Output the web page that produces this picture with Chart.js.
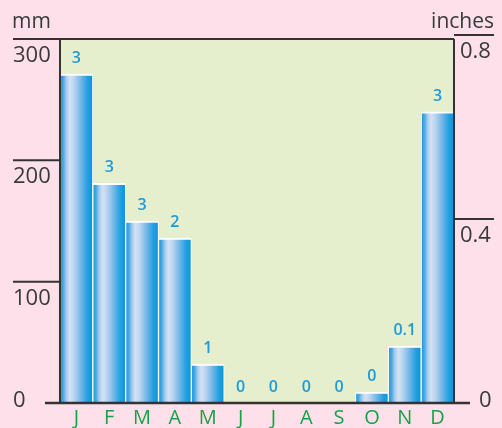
<!DOCTYPE html>
<html>
<head>
<meta charset="utf-8">
<script src="https://cdn.jsdelivr.net/npm/chart.js@4/dist/chart.umd.min.js"></script>
<style>
  html, body { margin: 0; padding: 0; background: #fde0ea; }
  #wrap { width: 502px; height: 428px; }
</style>
</head>
<body>
<div id="wrap"><canvas id="c" width="502" height="428"></canvas></div>
<script>
// ---- data ----
const months = ['J', 'F', 'M', 'A', 'M', 'J', 'J', 'A', 'S', 'O', 'N', 'D'];
const rainfallMm = [271, 181, 150, 136, 32, 0, 0, 0, 0, 9, 47, 240];
const rainLabels = ['3', '3', '3', '2', '1', '0', '0', '0', '0', '0', '0.1', '3'];
const mmTicks = [0, 100, 200, 300];
const inchTicks = [0, 0.4, 0.8];
const leftTitle = 'mm';
const rightTitle = 'inches';

// ---- styles ----
const PINK = '#fde0ea';
const PLOT = '#e5eecd';
const AXIS = '#333333';
const TEXT = '#3a3a3a';
const GREEN = '#17a24a';
const BLUE = '#1e9ad8';
const FONT = '"Open Sans", "Noto Sans", sans-serif';

function barGradient(context) {
  const chart = context.chart;
  const area = chart.chartArea;
  if (!area) return '#1e9ad8';
  const xs = chart.scales.x;
  const cx = xs.getPixelForValue(context.dataIndex);
  const w = (area.right - area.left) / months.length;
  const g = chart.ctx.createLinearGradient(cx - w / 2, 0, cx + w / 2, 0);
  g.addColorStop(0.00, '#1596dc');
  g.addColorStop(0.10, '#4aa9e4');
  g.addColorStop(0.20, '#a9cdee');
  g.addColorStop(0.30, '#d3e2f4');
  g.addColorStop(0.42, '#bdd6f0');
  g.addColorStop(0.55, '#93c3ea');
  g.addColorStop(0.70, '#5cafe5');
  g.addColorStop(0.84, '#22a0e0');
  g.addColorStop(1.00, '#0896da');
  return g;
}

const decor = {
  id: 'decor',
  beforeDraw(chart) {
    const { ctx, chartArea: a } = chart;
    ctx.save();
    ctx.fillStyle = PINK;
    ctx.fillRect(0, 0, chart.width, chart.height);
    ctx.fillStyle = PLOT;
    ctx.fillRect(a.left, a.top, a.right - a.left, a.bottom - a.top);
    ctx.restore();
  },
  afterDatasetsDraw(chart) {
    const { ctx } = chart;
    const meta = chart.getDatasetMeta(0);
    ctx.save();
    ctx.fillStyle = BLUE;
    ctx.font = '600 16px ' + FONT;
    ctx.textAlign = 'center';
    ctx.textBaseline = 'alphabetic';
    meta.data.forEach((bar, i) => {
      ctx.fillText(rainLabels[i], bar.x, bar.y - 11);
    });
    ctx.restore();
  },
  afterDraw(chart) {
    const { ctx, chartArea: a } = chart;
    const yL = chart.scales.y, yR = chart.scales.y2, xs = chart.scales.x;
    ctx.save();
    ctx.strokeStyle = AXIS;
    ctx.lineWidth = 2;
    // frame
    ctx.beginPath();
    ctx.moveTo(a.left, a.top); ctx.lineTo(a.right, a.top);
    ctx.moveTo(a.left, a.top); ctx.lineTo(a.left, a.bottom);
    ctx.moveTo(a.right, a.top); ctx.lineTo(a.right, a.bottom);
    ctx.stroke();
    ctx.lineWidth = 2.5;
    ctx.beginPath();
    ctx.moveTo(45, a.bottom); ctx.lineTo(470, a.bottom);
    ctx.stroke();
    ctx.lineWidth = 2;

    ctx.fillStyle = TEXT;
    ctx.font = '22px ' + FONT;
    ctx.textBaseline = 'alphabetic';
    // left ticks
    ctx.textAlign = 'left';
    mmTicks.forEach(v => {
      const y = yL.getPixelForValue(v);
      if (v === 0) {
        ctx.fillText(String(v), 13, y + 4);
      } else {
        ctx.beginPath(); ctx.moveTo(13, y); ctx.lineTo(a.left, y); ctx.stroke();
        ctx.fillText(String(v), 13, y + 23);
      }
    });
    // right ticks
    inchTicks.forEach(v => {
      const y = yR.getPixelForValue(v);
      if (v === 0) {
        ctx.fillText(String(v), 479, y + 4);
      } else {
        ctx.beginPath(); ctx.moveTo(a.right, y); ctx.lineTo(494, y); ctx.stroke();
        ctx.fillText(String(v), 460, y + 23);
      }
    });
    // axis titles
    ctx.font = '21px ' + FONT;
    ctx.textAlign = 'left';
    ctx.fillText(leftTitle, 12, 28);
    ctx.textAlign = 'right';
    ctx.fillText(rightTitle, 494, 28);
    // month labels
    ctx.fillStyle = GREEN;
    ctx.font = '20px ' + FONT;
    ctx.textAlign = 'center';
    months.forEach((m, i) => {
      ctx.fillText(m, xs.getPixelForValue(i), 424);
    });
    ctx.restore();
  }
};

new Chart(document.getElementById('c'), {
  type: 'bar',
  data: {
    labels: months,
    datasets: [{
      data: rainfallMm,
      backgroundColor: barGradient,
      borderColor: '#ffffff',
      borderWidth: { top: 2, left: 1, right: 1, bottom: 0 },
      borderSkipped: false,
      barPercentage: 1,
      categoryPercentage: 1,
      yAxisID: 'y'
    }]
  },
  options: {
    responsive: false,
    devicePixelRatio: 1,
    animation: false,
    layout: { padding: { left: 60, right: 48, top: 39, bottom: 25 } },
    plugins: { legend: { display: false }, tooltip: { enabled: false } },
    scales: {
      x: { display: false },
      y: { display: false, min: 0, max: 300 },
      y2: { display: false, position: 'right', min: 0, max: 0.7913 }
    }
  },
  plugins: [decor]
});
</script>
</body>
</html>
